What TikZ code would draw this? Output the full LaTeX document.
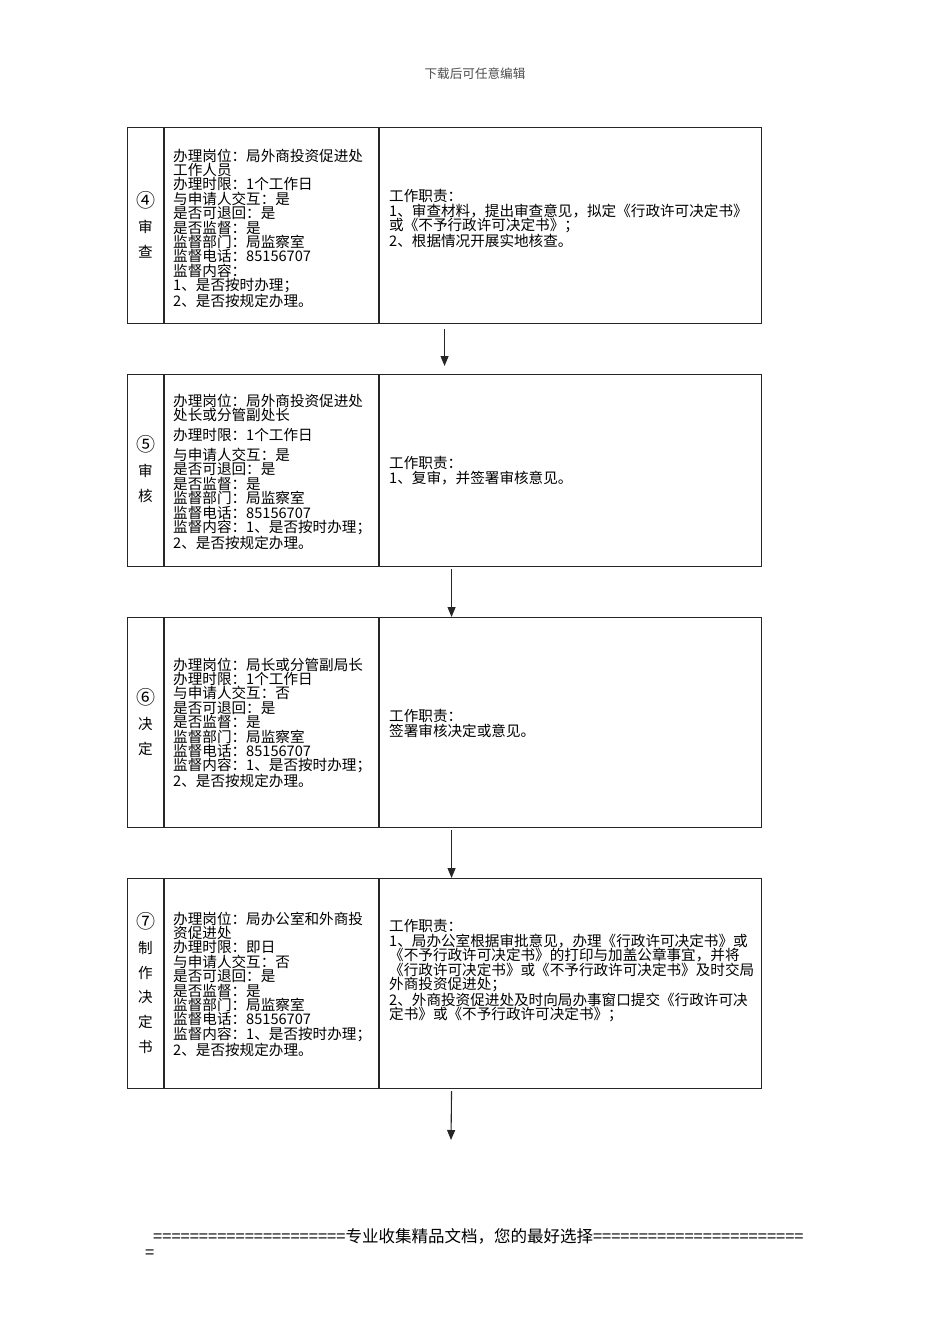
\documentclass[tikz,border=0pt]{standalone}
\usepackage{fontspec}
\setmainfont{Noto Sans CJK SC}
\usetikzlibrary{arrows.meta}
\newcommand\circnum[1]{{\fontsize{19}{24.7}\selectfont #1}}
\begin{document}
\begin{tikzpicture}[x=1pt,y=-1pt,
  framebox/.style={draw=black!85, line width=1.1pt, anchor=north west, inner sep=0pt, minimum width=634pt},
  flowarrow/.style={draw=black!85, line width=1.1pt, -{Triangle[length=10pt,width=8pt]}},
  txt/.style={anchor=north west, inner sep=0pt, align=left, font=\fontsize{14.6}{14.4}\selectfont},
  lbl/.style={anchor=center, inner sep=0pt, align=center, font=\fontsize{14.6}{24.7}\selectfont}]
\useasboundingbox[fill=white] (0,0) rectangle (950,1344);

\node[anchor=center, text=black!70, font=\fontsize{12.6}{12.6}\selectfont] (hdr) at (475,74) {下载后可任意编辑};

% boxes
\node[framebox, minimum height=196pt] (B1) at (127,127) {};
\node[framebox, minimum height=192pt] (B2) at (127,374) {};
\node[framebox, minimum height=210pt] (B3) at (127,617) {};
\node[framebox, minimum height=210pt] (B4) at (127,878) {};
\foreach \b in {B1,B2,B3,B4}{
  \draw[draw=black!85, line width=1.1pt] ([xshift=37pt]\b.north west) -- ([xshift=37pt]\b.south west);
  \draw[draw=black!85, line width=1.1pt] ([xshift=252pt]\b.north west) -- ([xshift=252pt]\b.south west);
}

% labels
\node[lbl] (L1) at (145.5,225) {\circnum{④}\\审\\查};
\node[lbl] (L2) at (145.5,469) {\circnum{⑤}\\审\\核};
\node[lbl] (L3) at (145.5,722) {\circnum{⑥}\\决\\定};
\node[lbl] (L4) at (145.5,983) {\circnum{⑦}\\制\\作\\决\\定\\书};

% left texts
\node[txt] (T1) at (173,148.5) {办理岗位：局外商投资促进处\\工作人员\\办理时限：1个工作日\\与申请人交互：是\\是否可退回：是\\是否监督：是\\监督部门：局监察室\\监督电话：85156707\\监督内容：\\1、是否按时办理；\\2、是否按规定办理。};
\node[txt] (T2) at (173,393.5) {办理岗位：局外商投资促进处\\处长或分管副处长\\[5.6pt]办理时限：1个工作日\\[5.6pt]与申请人交互：是\\是否可退回：是\\是否监督：是\\监督部门：局监察室\\监督电话：85156707\\监督内容：1、是否按时办理；\\2、是否按规定办理。};
\node[txt] (T3) at (173,657.5) {办理岗位：局长或分管副局长\\办理时限：1个工作日\\与申请人交互：否\\是否可退回：是\\是否监督：是\\监督部门：局监察室\\监督电话：85156707\\监督内容：1、是否按时办理；\\2、是否按规定办理。};
\node[txt] (T4) at (173,911.5) {办理岗位：局办公室和外商投\\资促进处\\办理时限：即日\\与申请人交互：否\\是否可退回：是\\是否监督：是\\监督部门：局监察室\\监督电话：85156707\\监督内容：1、是否按时办理；\\2、是否按规定办理。};

% right texts
\node[txt] (R1) at (389,189.5) {工作职责：\\1、审查材料，提出审查意见，拟定《行政许可决定书》\\或《不予行政许可决定书》；\\2、根据情况开展实地核查。};
\node[txt] (R2) at (389,456.5) {工作职责：\\1、复审，并签署审核意见。};
\node[txt] (R3) at (389,709.5) {工作职责：\\签署审核决定或意见。};
\node[txt] (R4) at (389,919.5) {工作职责：\\1、局办公室根据审批意见，办理《行政许可决定书》或\\《不予行政许可决定书》的打印与加盖公章事宜，并将\\《行政许可决定书》或《不予行政许可决定书》及时交局\\外商投资促进处；\\2、外商投资促进处及时向局办事窗口提交《行政许可决\\定书》或《不予行政许可决定书》；};

% arrows
\coordinate (E) at (451,1140);
\draw[flowarrow] ([yshift=-5pt]B1.south) -- ([yshift=8pt]B2.north);
\draw[flowarrow] ([xshift=7pt,yshift=-2pt]B2.south) -- ([xshift=7pt]B3.north);
\draw[flowarrow] ([xshift=7pt,yshift=-2pt]B3.south) -- ([xshift=7pt]B4.north);
\draw[flowarrow] ([xshift=7pt,yshift=-2pt]B4.south) -- (E);

% footer
\node[anchor=west, inner sep=0pt, font=\fontsize{16.5}{16.5}\selectfont] (F1) at (153,1236) {=====================专业收集精品文档，您的最好选择=======================};
\node[anchor=west, inner sep=0pt, font=\fontsize{16.5}{16.5}\selectfont] (F2) at (145,1254) {=};
\end{tikzpicture}
\end{document}
